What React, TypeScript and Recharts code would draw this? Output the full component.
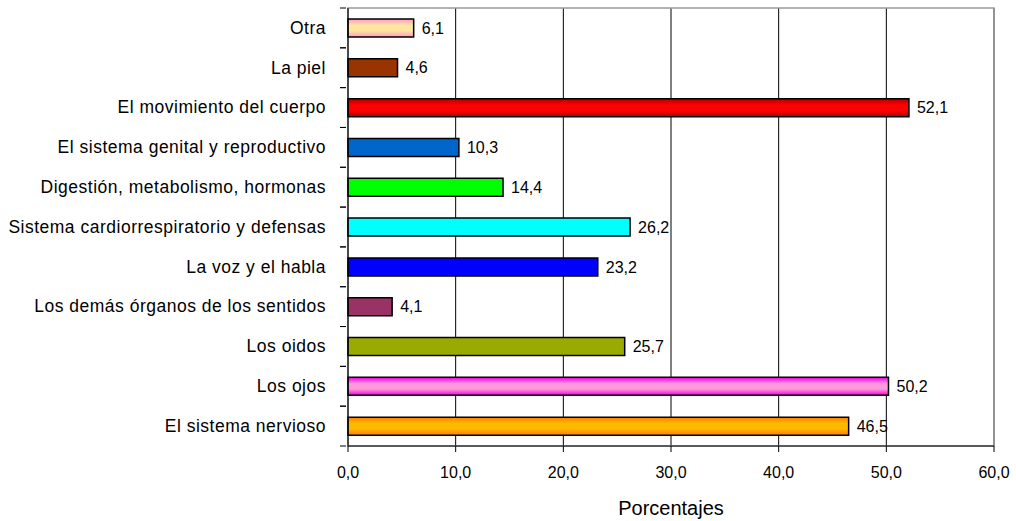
import React from 'react';
import {
  BarChart,
  Bar,
  XAxis,
  YAxis,
  CartesianGrid,
  Cell,
  LabelList,
  ReferenceArea,
} from 'recharts';

const categories = [
  'Otra',
  'La piel',
  'El movimiento del cuerpo',
  'El sistema genital y reproductivo',
  'Digestión, metabolismo, hormonas',
  'Sistema cardiorrespiratorio y defensas',
  'La voz y el habla',
  'Los demás órganos de los sentidos',
  'Los oidos',
  'Los ojos',
  'El sistema nervioso',
];

const percentages = [6.1, 4.6, 52.1, 10.3, 14.4, 26.2, 23.2, 4.1, 25.7, 50.2, 46.5];

const barFills = [
  'url(#gOtra)',
  '#993300',
  'url(#gRed)',
  '#0066cc',
  '#00ff00',
  '#00ffff',
  '#0000ff',
  '#993366',
  '#99aa00',
  'url(#gPink)',
  'url(#gOrange)',
];

const xTicks = [0, 10, 20, 30, 40, 50, 60];

const data = categories.map((name, i) => ({ name, value: percentages[i] }));

const W = 1016;
const H = 521;
const M = { top: 8, right: 22, bottom: 0, left: 0 };
const Y_AXIS_W = 348;
const X_AXIS_H = 75;
const FONT = '"Liberation Sans", Arial, sans-serif';

const fmt = (v: number) => v.toFixed(1).replace('.', ',');

const plotH = H - M.top - M.bottom - X_AXIS_H;
const halfBand = plotH / categories.length / 2;

function CategoryTick(props: any) {
  const { x, y, payload } = props;
  return (
    <g>
      <line x1={x} x2={x + 6} y1={y - halfBand} y2={y - halfBand} stroke="#000" />
      <line x1={x} x2={x + 6} y1={y + halfBand} y2={y + halfBand} stroke="#000" />
      <text
        x={x - 14}
        y={y}
        dy="0.33em"
        textAnchor="end"
        fontSize={17.5}
        letterSpacing={0.5}
        fontFamily={FONT}
        fill="#000"
      >
        {payload.value}
      </text>
    </g>
  );
}

function Gradient({ id, edge, mid }: { id: string; edge: string; mid: string }) {
  return (
    <linearGradient id={id} x1="0" y1="0" x2="0" y2="1">
      <stop offset="0%" stopColor={edge} />
      <stop offset="35%" stopColor={mid} />
      <stop offset="65%" stopColor={mid} />
      <stop offset="100%" stopColor={edge} />
    </linearGradient>
  );
}

export default function App() {
  return (
    <div style={{ position: 'absolute', left: 0, top: 0, background: '#fff' }}>
      <BarChart width={W} height={H} data={data} layout="vertical" margin={M} barSize={18}>
        <defs>
          <Gradient id="gOtra" edge="#ff99cc" mid="#ffe6a0" />
          <Gradient id="gRed" edge="#b00000" mid="#ff0000" />
          <Gradient id="gPink" edge="#ee00dd" mid="#ff99dd" />
          <Gradient id="gOrange" edge="#ff8000" mid="#ffb800" />
        </defs>
        <CartesianGrid horizontal={false} stroke="#000" strokeOpacity={1} />
        <ReferenceArea x1={0} x2={60} stroke="#999" strokeWidth={1.5} fill="none" ifOverflow="visible" />
        <XAxis
          type="number"
          domain={[0, 60]}
          ticks={xTicks}
          tickFormatter={fmt}
          height={X_AXIS_H}
          stroke="#000"
          tickSize={6}
          tickMargin={15}
          tick={{ fontSize: 16, fontFamily: FONT, fill: '#000' }}
          label={{
            value: 'Porcentajes',
            position: 'insideBottom',
            offset: 6,
            fontSize: 20,
            fontFamily: FONT,
            fill: '#000',
          }}
        />
        <YAxis
          type="category"
          dataKey="name"
          width={Y_AXIS_W}
          stroke="#000"
          tickLine={false}
          tick={<CategoryTick />}
          interval={0}
        />
        <Bar dataKey="value" stroke="#000" strokeWidth={1.5} isAnimationActive={false}>
          {data.map((d, i) => (
            <Cell key={d.name} fill={barFills[i]} />
          ))}
          <LabelList
            dataKey="value"
            position="right"
            offset={8}
            formatter={(v: any) => fmt(Number(v))}
            style={{ fontSize: 16, fontFamily: FONT, fill: '#000' }}
          />
        </Bar>
      </BarChart>
    </div>
  );
}
